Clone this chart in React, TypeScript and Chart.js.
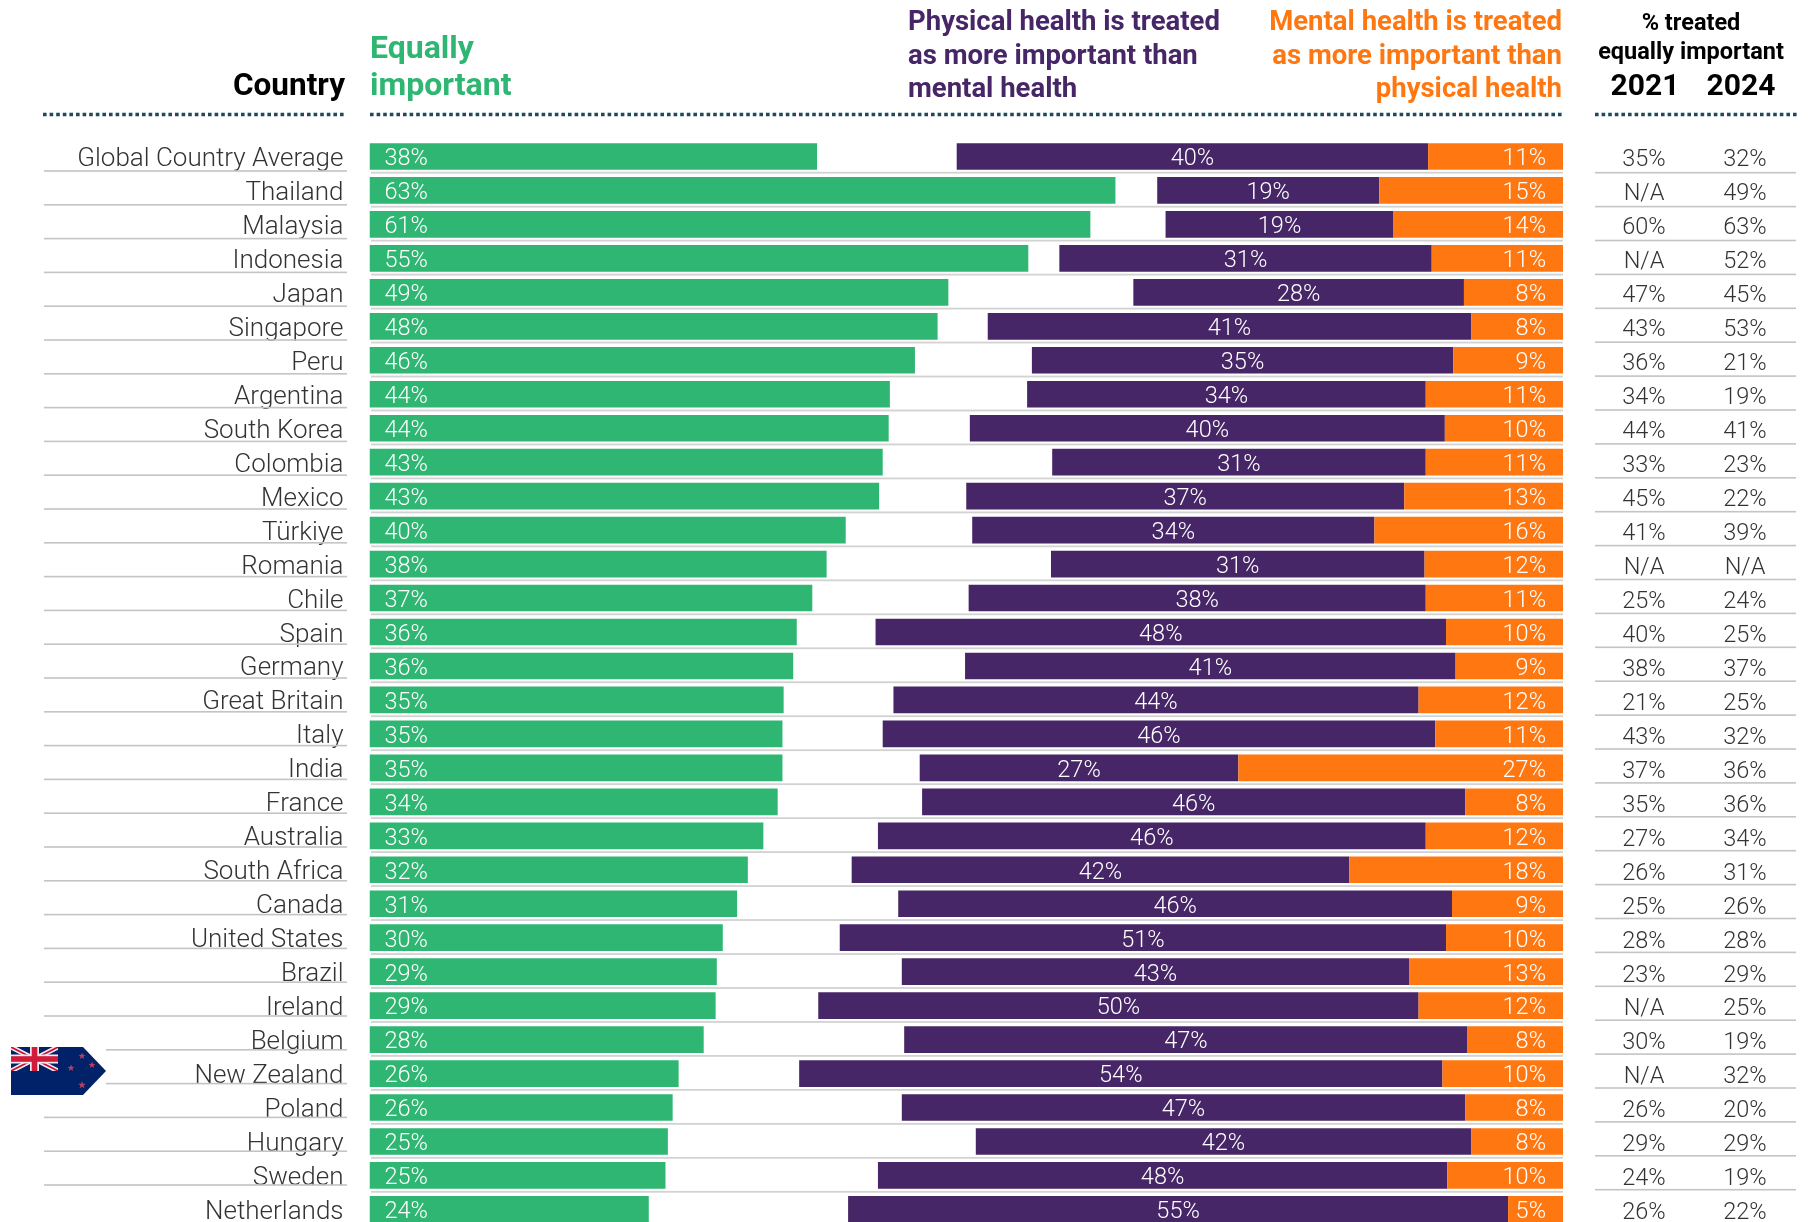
import React, { useEffect, useRef } from "react";
import { Chart, registerables } from "chart.js";
Chart.register(...registerables);

const countries = ["Global Country Average","Thailand","Malaysia","Indonesia","Japan","Singapore","Peru","Argentina","South Korea","Colombia","Mexico","Türkiye","Romania","Chile","Spain","Germany","Great Britain","Italy","India","France","Australia","South Africa","Canada","United States","Brazil","Ireland","Belgium","New Zealand","Poland","Hungary","Sweden","Netherlands"];
const equalValues = [37.5,62.5,60.4,55.2,48.5,47.6,45.7,43.6,43.5,43.0,42.7,39.9,38.3,37.1,35.8,35.5,34.7,34.6,34.6,34.2,33.0,31.7,30.8,29.6,29.1,29.0,28.0,25.9,25.4,25.0,24.8,23.4];
const physicalValues = [39.5,18.6,19.1,31.2,27.7,40.5,35.3,33.4,39.8,31.3,36.7,33.7,31.3,38.3,47.8,41.1,44.0,46.3,26.7,45.5,45.9,41.7,46.4,50.8,42.5,50.3,47.2,53.9,47.2,41.5,47.7,55.3];
const mentalValues = [11.3,15.4,14.2,11.0,8.3,7.7,9.2,11.5,9.9,11.5,13.3,15.8,11.6,11.5,9.8,9.0,12.1,10.7,27.2,8.2,11.5,17.9,9.3,9.8,12.9,12.1,8.0,10.1,8.2,7.7,9.7,4.6];
const equalLabels = [38,63,61,55,49,48,46,44,44,43,43,40,38,37,36,36,35,35,35,34,33,32,31,30,29,29,28,26,26,25,25,24];
const physicalLabels = [40,19,19,31,28,41,35,34,40,31,37,34,31,38,48,41,44,46,27,46,46,42,46,51,43,50,47,54,47,42,48,55];
const mentalLabels = [11,15,14,11,8,8,9,11,10,11,13,16,12,11,10,9,12,11,27,8,12,18,9,10,13,12,8,10,8,8,10,5];
const treated2021 = ["35%","N/A","60%","N/A","47%","43%","36%","34%","44%","33%","45%","41%","N/A","25%","40%","38%","21%","43%","37%","35%","27%","26%","25%","28%","23%","N/A","30%","N/A","26%","29%","24%","26%"];
const treated2024 = ["32%","49%","63%","52%","45%","53%","21%","19%","41%","23%","22%","39%","N/A","24%","25%","37%","25%","32%","36%","36%","34%","31%","26%","28%","29%","25%","19%","32%","20%","29%","19%","22%"];

const GREEN = "#2eb672";
const PURPLE = "#472667";
const ORANGE = "#ff7711";
const FONT = "Roboto, sans-serif";

function drawStar(ctx: CanvasRenderingContext2D, cx: number, cy: number, r: number) {
  ctx.beginPath();
  for (let i = 0; i < 10; i++) {
    const a = -Math.PI / 2 + (i * Math.PI) / 5;
    const rr = i % 2 === 0 ? r : r * 0.42;
    ctx.lineTo(cx + rr * Math.cos(a), cy + rr * Math.sin(a));
  }
  ctx.closePath();
  ctx.fill();
}

function drawFlag(ctx: CanvasRenderingContext2D) {
  const x = 11, y = 1047, h = 48, w = 95, jw = 47, jh = 24;
  ctx.save();
  ctx.fillStyle = "#ffffff";
  ctx.fillRect(x, y - 3, w, h + 6);
  ctx.beginPath();
  ctx.moveTo(x, y);
  ctx.lineTo(x + 72, y);
  ctx.lineTo(x + w, y + h / 2);
  ctx.lineTo(x + 72, y + h);
  ctx.lineTo(x, y + h);
  ctx.closePath();
  ctx.clip();
  ctx.fillStyle = "#012169";
  ctx.fillRect(x, y, w, h);
  ctx.save();
  ctx.beginPath();
  ctx.rect(x, y, jw, jh);
  ctx.clip();
  ctx.strokeStyle = "#f3e9ee";
  ctx.lineWidth = 5;
  ctx.beginPath();
  ctx.moveTo(x, y); ctx.lineTo(x + jw, y + jh);
  ctx.moveTo(x + jw, y); ctx.lineTo(x, y + jh);
  ctx.stroke();
  ctx.strokeStyle = "#c8102e";
  ctx.lineWidth = 1.6;
  ctx.beginPath();
  ctx.moveTo(x, y); ctx.lineTo(x + jw, y + jh);
  ctx.moveTo(x + jw, y); ctx.lineTo(x, y + jh);
  ctx.stroke();
  ctx.fillStyle = "#f3e9ee";
  ctx.fillRect(x + jw / 2 - 4.5, y, 9, jh);
  ctx.fillRect(x, y + jh / 2 - 4.5, jw, 9);
  ctx.fillStyle = "#d01c3a";
  ctx.fillRect(x + jw / 2 - 2.8, y, 5.6, jh);
  ctx.fillRect(x, y + jh / 2 - 2.8, jw, 5.6);
  ctx.restore();
  ctx.fillStyle = "#b8405e";
  drawStar(ctx, 82, 1056, 3.6);
  drawStar(ctx, 71, 1068, 3.6);
  drawStar(ctx, 92, 1065, 3.6);
  drawStar(ctx, 82, 1085, 4);
  ctx.restore();
}

const rulesPlugin = {
  id: "rules",
  beforeDatasetsDraw(chart: any) {
    const ctx: CanvasRenderingContext2D = chart.ctx;
    ctx.save();
    countries.forEach((_, i) => {
      if (i === countries.length - 1) return;
      const leftY = 171 + i * 33.8;
      const midY = 172.7 + i * 33.97;
      const rightY = 172.7 + i * 33.9;
      ctx.fillStyle = "#c4c4c4";
      ctx.fillRect(44, leftY - 0.8, 303, 1.6);
      ctx.fillRect(1595, rightY - 0.8, 201, 1.6);
      ctx.fillStyle = "#d2d2d2";
      ctx.fillRect(371, midY - 0.9, 1192, 1.8);
    });
    ctx.restore();
  },
};

const tablePlugin = {
  id: "table",
  afterDraw(chart: any) {
    const ctx: CanvasRenderingContext2D = chart.ctx;
    const yScale = chart.scales.y;
    ctx.save();
    ctx.strokeStyle = "#1f4a5c";
    ctx.lineWidth = 3.5;
    ctx.setLineDash([3.6, 3]);
    [[43, 345], [370, 1563], [1595, 1797]].forEach(([a, b]) => {
      ctx.beginPath();
      ctx.moveTo(a, 114.5);
      ctx.lineTo(b, 114.5);
      ctx.stroke();
    });
    ctx.setLineDash([]);
    ctx.textBaseline = "middle";
    ctx.fillStyle = "#ffffff";
    ctx.font = `300 23.5px ${FONT}`;
    const greenBars = chart.getDatasetMeta(0).data;
    const orangeBars = chart.getDatasetMeta(1).data;
    const purpleBars = chart.getDatasetMeta(2).data;
    countries.forEach((_, i) => {
      const y = yScale.getPixelForValue(i) + 3;
      ctx.textAlign = "left";
      ctx.fillText(equalLabels[i] + "%", greenBars[i].base + 15, y);
      ctx.textAlign = "center";
      ctx.fillText(physicalLabels[i] + "%", (purpleBars[i].x + purpleBars[i].base) / 2, y);
      ctx.textAlign = "right";
      ctx.fillText(mentalLabels[i] + "%", orangeBars[i].base - 17, y);
    });
    ctx.fillStyle = "#333333";
    ctx.font = `300 23.5px ${FONT}`;
    ctx.textAlign = "center";
    countries.forEach((_, i) => {
      const y = yScale.getPixelForValue(i) + 4;
      ctx.fillText(treated2021[i], 1644, y);
      ctx.fillText(treated2024[i], 1745, y);
    });
    ctx.textBaseline = "alphabetic";
    ctx.fillStyle = "#000000";
    ctx.textAlign = "right";
    ctx.font = `700 31.5px ${FONT}`;
    ctx.fillText("Country", 345, 95);
    ctx.textAlign = "left";
    ctx.fillStyle = GREEN;
    ctx.font = `700 32px ${FONT}`;
    ctx.fillText("Equally", 370, 58);
    ctx.fillText("important", 370, 95);
    ctx.fillStyle = PURPLE;
    ctx.font = `700 27.5px ${FONT}`;
    ctx.fillText("Physical health is treated", 908, 30);
    ctx.fillText("as more important than", 908, 64);
    ctx.fillText("mental health", 908, 97);
    ctx.textAlign = "right";
    ctx.fillStyle = ORANGE;
    ctx.fillText("Mental health is treated", 1562, 30);
    ctx.fillText("as more important than", 1562, 64);
    ctx.fillText("physical health", 1562, 97);
    ctx.textAlign = "center";
    ctx.fillStyle = "#000000";
    ctx.font = `700 23.5px ${FONT}`;
    ctx.fillText("% treated", 1691, 30);
    ctx.fillText("equally important", 1691, 59);
    ctx.font = `700 30px ${FONT}`;
    ctx.fillText("2021", 1645, 95);
    ctx.fillText("2024", 1741, 95);
    drawFlag(ctx);
    ctx.restore();
  },
};

export default function App() {
  const ref = useRef<HTMLCanvasElement>(null);
  useEffect(() => {
    const chart = new Chart(ref.current!, {
      type: "bar",
      data: {
        labels: countries,
        datasets: [
          { label: "Equally important", data: equalValues, backgroundColor: GREEN, xAxisID: "x", stack: "a" },
          { label: "Mental health is treated as more important", data: mentalValues, backgroundColor: ORANGE, xAxisID: "x2", stack: "a" },
          { label: "Physical health is treated as more important", data: physicalValues, backgroundColor: PURPLE, xAxisID: "x2", stack: "a" },
        ],
      },
      options: {
        indexAxis: "y",
        responsive: false,
        animation: false,
        maintainAspectRatio: false,
        layout: { padding: { top: 139.5, right: 250, bottom: 16, left: 0 } },
        datasets: { bar: { barPercentage: 1, categoryPercentage: 0.785 } },
        plugins: { legend: { display: false }, tooltip: { enabled: false } },
        scales: {
          x: { type: "linear", min: 0, max: 100, stacked: true, display: false },
          x2: { type: "linear", min: 0, max: 100, reverse: true, stacked: true, display: false },
          y: {
            type: "category",
            stacked: true,
            afterFit(s: any) { s.width = 369.5; },
            grid: { display: false },
            border: { display: false },
            ticks: {
              autoSkip: false,
              color: "#333333",
              padding: 18,
              labelOffset: 3,
              font: { family: FONT, size: 26, weight: 300 },
            },
          },
        },
      } as any,
      plugins: [rulesPlugin, tablePlugin],
    });
    return () => chart.destroy();
  }, []);
  return (
    <div style={{ position: "absolute", left: 0, top: 0, width: 1813, height: 1222, overflow: "hidden", background: "#fff" }}>
      <canvas ref={ref} width={1813} height={1260} style={{ display: "block" }} />
    </div>
  );
}
